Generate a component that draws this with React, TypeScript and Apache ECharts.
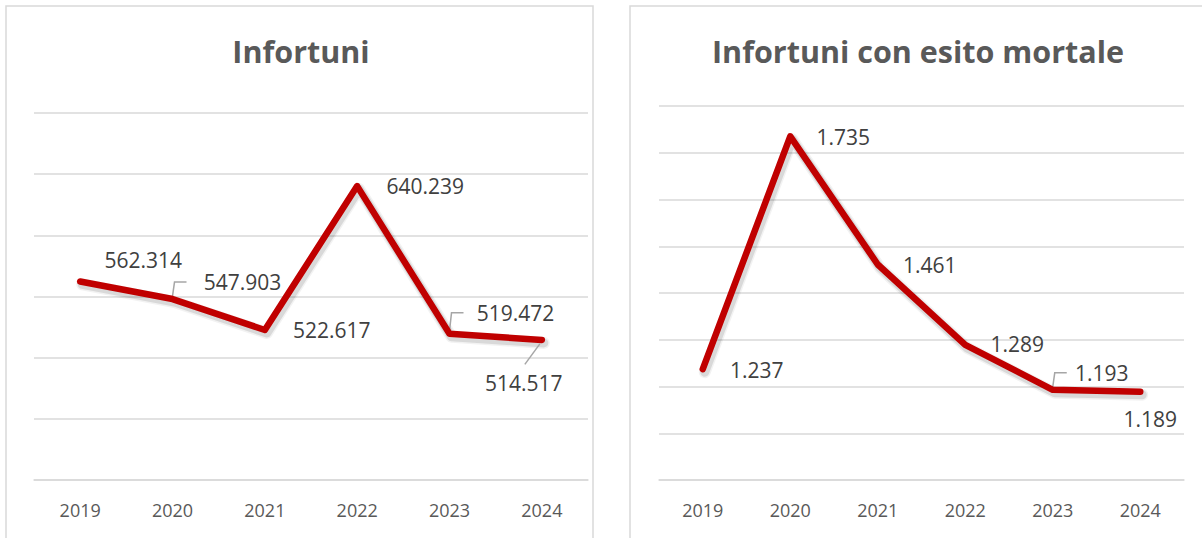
import React, { useEffect, useRef } from "react";
import * as echarts from "echarts";

const years = ["2019", "2020", "2021", "2022", "2023", "2024"];
const infortuni = [562314, 547903, 522617, 640239, 519472, 514517];
const mortali = [1237, 1735, 1461, 1289, 1193, 1189];
const titleLeft = "Infortuni";
const titleRight = "Infortuni con esito mortale";

const fmt = (v: number) => String(v).replace(/\B(?=(\d{3})+(?!\d))/g, ".");

const FONT = "Open Sans";
const RED = "#c00000";
const GRID = "#d9d9d9";
const LABEL_SIZE = 21;

type Leader = "none" | "elbow" | "diag";
// label placement relative to data point (styling constants)
const leftLabels: [number, number, Leader][] = [
  [63, -21, "none"],
  [70, -17, "elbow"],
  [67, 0, "none"],
  [68, 0, "none"],
  [66, -21, "elbow"],
  [-18, 43, "diag"],
];
const rightLabels: [number, number, Leader][] = [
  [54, 1, "none"],
  [53, 1, "none"],
  [52, 1, "none"],
  [52, -1, "none"],
  [49, -17, "elbow"],
  [10, 27, "none"],
];

function makeSeries(values: number[], place: [number, number, Leader][], xi: number) {
  return {
    type: "line",
    xAxisIndex: xi,
    yAxisIndex: xi,
    z: 3,
    data: values,
    symbol: "circle",
    symbolSize: 2,
    itemStyle: { color: RED },
    lineStyle: { color: RED, width: 6.5, cap: "round", join: "round" },
    label: {
      show: true,
      position: "inside",
      formatter: (p: any) => fmt(p.value),
      color: "#404040",
      fontFamily: FONT,
      fontSize: LABEL_SIZE,
    },
    labelLayout: (p: any) => {
      const [dx, dy] = place[p.dataIndex];
      const px = p.rect.x + p.rect.width / 2;
      const py = p.rect.y + p.rect.height / 2;
      return { x: px + dx, y: py + dy, align: "center", verticalAlign: "middle" };
    },
  };
}

function makeShadow(values: number[], xi: number, width: number, alpha: number) {
  return {
    type: "line",
    xAxisIndex: xi,
    yAxisIndex: xi,
    z: 1,
    silent: true,
    data: values,
    showSymbol: false,
    symbol: "none",
    lineStyle: { color: `rgba(0,0,0,${alpha})`, width, cap: "round", join: "round" },
  };
}

function makeLeaders(values: number[], place: [number, number, Leader][], xi: number) {
  return {
    type: "custom",
    xAxisIndex: xi,
    yAxisIndex: xi,
    z: 2,
    silent: true,
    data: values.map((v, i) => [i, v]),
    renderItem: (params: any, api: any) => {
      const i = api.value(0);
      const [dx, dy, leader] = place[i];
      const [px, py] = api.coord([i, api.value(1)]);
      const lx = px + dx;
      const ly = py + dy;
      let points: number[][] | null = null;
      if (leader === "elbow") {
        points = [
          [px, py - 3],
          [px + 2, ly],
          [px + 14, ly],
        ];
      } else if (leader === "diag") {
        points = [
          [px - 2, py + 4],
          [lx + 1, ly - LABEL_SIZE / 2 - 8],
        ];
      }
      if (!points) return null;
      return {
        type: "polyline",
        shape: { points },
        style: { stroke: "#a6a6a6", fill: "none", lineWidth: 1.5 },
      };
    },
  };
}

export default function App() {
  const ref = useRef<HTMLDivElement>(null);
  useEffect(() => {
    document.body.style.margin = "0";
    const chart = echarts.init(ref.current!, undefined, { renderer: "svg" });
    const xAxisBase = {
      type: "category",
      data: years,
      boundaryGap: true,
      axisLine: { show: true, lineStyle: { color: GRID, width: 1.5 } },
      axisTick: { show: false },
      axisLabel: { color: "#595959", fontFamily: FONT, fontSize: 18, margin: 21 },
    };
    const hiddenX = { type: "category", data: years, boundaryGap: true, show: false };
    const yAxisBase = {
      type: "value",
      axisLabel: { show: false },
      axisLine: { show: false },
      axisTick: { show: false },
      splitLine: { show: true, lineStyle: { color: GRID, width: 1.5 } },
    };
    const leftY = { min: 400000, max: 700000, interval: 50000 };
    const rightY = { min: 1000, max: 1800, interval: 100 };
    const titleStyle = { color: "#595959", fontFamily: FONT, fontSize: 30.5, fontWeight: "bold" };
    const SX = 2;
    const SY = 3;
    chart.setOption({
      animation: false,
      backgroundColor: "#ffffff",
      title: [
        { text: titleLeft, left: 296, top: 30, textAlign: "center", textStyle: titleStyle },
        { text: titleRight, left: 913, top: 30, textAlign: "center", textStyle: titleStyle },
      ],
      graphic: [
        {
          type: "rect",
          shape: { x: 6, y: 6, width: 587, height: 560 },
          style: { fill: "none", stroke: GRID, lineWidth: 1.5 },
          silent: true,
        },
        {
          type: "rect",
          shape: { x: 630, y: 6, width: 600, height: 560 },
          style: { fill: "none", stroke: GRID, lineWidth: 1.5 },
          silent: true,
        },
      ],
      grid: [
        { left: 34, right: 1202 - 588, top: 113, bottom: 58 },
        { left: 659, right: 18, top: 106, bottom: 58 },
        { left: 34 + SX, right: 1202 - 588 - SX, top: 113 + SY, bottom: 58 - SY },
        { left: 659 + SX, right: 18 - SX, top: 106 + SY, bottom: 58 - SY },
      ],
      xAxis: [
        { ...xAxisBase, gridIndex: 0 },
        { ...xAxisBase, gridIndex: 1 },
        { ...hiddenX, gridIndex: 2 },
        { ...hiddenX, gridIndex: 3 },
      ],
      yAxis: [
        { ...yAxisBase, gridIndex: 0, ...leftY },
        { ...yAxisBase, gridIndex: 1, ...rightY },
        { type: "value", show: false, splitLine: { show: false }, gridIndex: 2, ...leftY },
        { type: "value", show: false, splitLine: { show: false }, gridIndex: 3, ...rightY },
      ],
      series: [
        makeShadow(infortuni, 2, 12, 0.05),
        makeShadow(infortuni, 2, 9, 0.1),
        makeShadow(mortali, 3, 12, 0.05),
        makeShadow(mortali, 3, 9, 0.1),
        makeLeaders(infortuni, leftLabels, 0),
        makeLeaders(mortali, rightLabels, 1),
        makeSeries(infortuni, leftLabels, 0),
        makeSeries(mortali, rightLabels, 1),
      ],
    });
    return () => chart.dispose();
  }, []);
  return <div ref={ref} style={{ width: 1202, height: 538 }} />;
}
